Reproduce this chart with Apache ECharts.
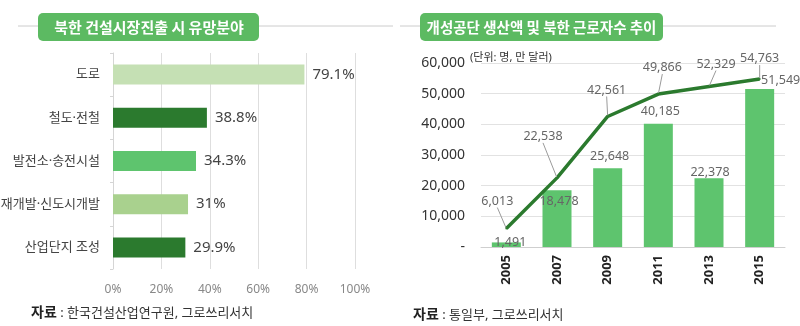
<!DOCTYPE html>
<html><head><meta charset="utf-8">
<script src="https://cdn.jsdelivr.net/npm/echarts@6/dist/echarts.min.js"></script>
<style>html,body{margin:0;padding:0;background:#fff}#c{width:800px;height:326px}</style>
</head><body><div id="c"></div>
<script>
// ---- data ----
const leftCategories = ['도로', '철도·전철', '발전소·송전시설', '재개발·신도시개발', '산업단지 조성'];
const leftValues = [79.1, 38.8, 34.3, 31, 29.9];
const leftTickValues = [0, 20, 40, 60, 80, 100];
const years = ['2005', '2007', '2009', '2011', '2013', '2015'];
const production = [1491, 18478, 25648, 40185, 22378, 51549];   // 생산액 (만 달러)
const workers = [6013, 22538, 42561, 49866, 52329, 54763];       // 북한 근로자수 (명)
const rightTickValues = [0, 10000, 20000, 30000, 40000, 50000, 60000];

// ---- styles ----
const FONT = '"Noto Sans", "Noto Sans CJK KR", sans-serif';
const leftColors = ['#c5e0b4', '#2b7a2e', '#5ec46e', '#a9d18e', '#2b7a2e'];
const barGreen = '#5ec46e';
const lineGreen = '#2b7a2e';
const pillGreen = '#5cba62';
const barLabelStyle = [
  {position: 'top', offset: [4, 11]},
  {position: 'insideTop', offset: [2, 0]},
  {position: 'top', offset: [2, -1]},
  {position: 'top', offset: [2, -1]},
  {position: 'top', offset: [1, 5]},
  {position: 'top', offset: [21, 3]}
];
const lineLabelShift = [[-9, -15], [-14, -29], [-1, -14], [4, -14], [7, -10], [0, -8]];

const chart = echarts.init(document.getElementById('c'), null, {renderer: 'canvas'});
const fmt = v => v === 0 ? '-' : v.toLocaleString('en-US');

chart.setOption({
  animation: false,
  textStyle: {fontFamily: FONT},
  grid: [
    {left: 113, top: 53, width: 242, height: 216, outerBoundsMode: 'none', containLabel: false},
    {left: 481, top: 63, width: 304, height: 184, outerBoundsMode: 'none', containLabel: false}
  ],
  xAxis: [
    {
      gridIndex: 0, type: 'value', min: leftTickValues[0], max: leftTickValues[leftTickValues.length - 1],
      interval: leftTickValues[1] - leftTickValues[0],
      axisLine: {show: false}, axisTick: {show: false},
      splitLine: {lineStyle: {color: '#dedede'}},
      axisLabel: {formatter: '{value}%', color: '#888', fontSize: 12, margin: 15, fontFamily: FONT}
    },
    {
      gridIndex: 1, type: 'category', data: years,
      axisLine: {lineStyle: {color: '#cfcfcf'}}, axisTick: {show: false},
      axisLabel: {rotate: 90, fontWeight: 'bold', color: '#222', fontSize: 13, margin: 8, fontFamily: FONT}
    }
  ],
  yAxis: [
    {
      gridIndex: 0, type: 'category', data: leftCategories, inverse: true,
      axisLine: {lineStyle: {color: '#d5d5d5'}},
      axisTick: {show: true, length: 3, lineStyle: {color: '#d5d5d5'}},
      axisLabel: {color: '#444', fontSize: 13, margin: 13, fontFamily: FONT}
    },
    {
      gridIndex: 1, type: 'value', min: rightTickValues[0], max: rightTickValues[rightTickValues.length - 1],
      interval: rightTickValues[1] - rightTickValues[0],
      axisLine: {show: false}, axisTick: {show: false},
      splitLine: {lineStyle: {color: '#e2e2e2'}},
      axisLabel: {formatter: fmt, color: '#333', fontSize: 14, margin: 16, fontFamily: FONT}
    }
  ],
  series: [
    {
      type: 'bar', xAxisIndex: 0, yAxisIndex: 0, barWidth: 20,
      data: leftValues.map((v, i) => ({value: v, itemStyle: {color: leftColors[i]}})),
      label: {show: true, position: 'right', distance: 8, formatter: p => p.value + '%',
              color: '#444', fontSize: 15, fontFamily: FONT}
    },
    {
      type: 'bar', xAxisIndex: 1, yAxisIndex: 1, barWidth: 29, z: 2,
      itemStyle: {color: barGreen},
      data: production.map((v, i) => ({value: v, label: barLabelStyle[i]})),
      label: {show: true, formatter: p => fmt(p.value), color: '#666', fontSize: 12.5, fontFamily: FONT}
    },
    {
      type: 'line', xAxisIndex: 1, yAxisIndex: 1, z: 3,
      data: workers,
      symbol: 'circle', symbolSize: 2, showSymbol: true,
      itemStyle: {color: lineGreen},
      lineStyle: {color: lineGreen, width: 3.5},
      label: {show: true, position: 'top', formatter: p => fmt(p.value), color: '#666', fontSize: 12.5, fontFamily: FONT},
      labelLine: {show: true, lineStyle: {color: '#9a9a9a', width: 1}},
      labelLayout: p => ({dx: lineLabelShift[p.dataIndex][0], dy: lineLabelShift[p.dataIndex][1]})
    }
  ],
  graphic: [
    {type: 'line', shape: {x1: 18, y1: 26, x2: 393, y2: 26}, style: {stroke: '#cccccc', lineWidth: 1}, z: 1},
    {type: 'line', shape: {x1: 400, y1: 26, x2: 776, y2: 26}, style: {stroke: '#cccccc', lineWidth: 1}, z: 1},
    {type: 'rect', shape: {x: 38, y: 13, width: 221, height: 28, r: 5}, style: {fill: pillGreen}, z: 2},
    {type: 'rect', shape: {x: 420, y: 13, width: 243, height: 28, r: 5}, style: {fill: pillGreen}, z: 2},
    {type: 'text', x: 149, y: 27, z: 3, style: {text: '북한 건설시장진출 시 유망분야', fill: '#fff', font: 'bold 15px "Noto Sans CJK KR"', align: 'center', verticalAlign: 'middle'}},
    {type: 'text', x: 541.5, y: 27, z: 3, style: {text: '개성공단 생산액 및 북한 근로자수 추이', fill: '#fff', font: 'bold 14.5px "Noto Sans CJK KR"', align: 'center', verticalAlign: 'middle'}},
    {type: 'text', x: 470, y: 58, z: 3, style: {text: '(단위: 명, 만 달러)', fill: '#333', font: '11px ' + FONT, verticalAlign: 'middle'}},
    {type: 'text', x: 31, y: 313, z: 3, style: {
      text: '{b|자료} : 한국건설산업연구원, 그로쓰리서치', verticalAlign: 'middle',
      rich: {b: {fontWeight: 'bold', fontSize: 14, fill: '#222', fontFamily: FONT}},
      fontSize: 13, fill: '#333', fontFamily: FONT}},
    {type: 'text', x: 413, y: 315, z: 3, style: {
      text: '{b|자료} : 통일부, 그로쓰리서치', verticalAlign: 'middle',
      rich: {b: {fontWeight: 'bold', fontSize: 14, fill: '#222', fontFamily: FONT}},
      fontSize: 13, fill: '#333', fontFamily: FONT}}
  ]
});
</script></body></html>
